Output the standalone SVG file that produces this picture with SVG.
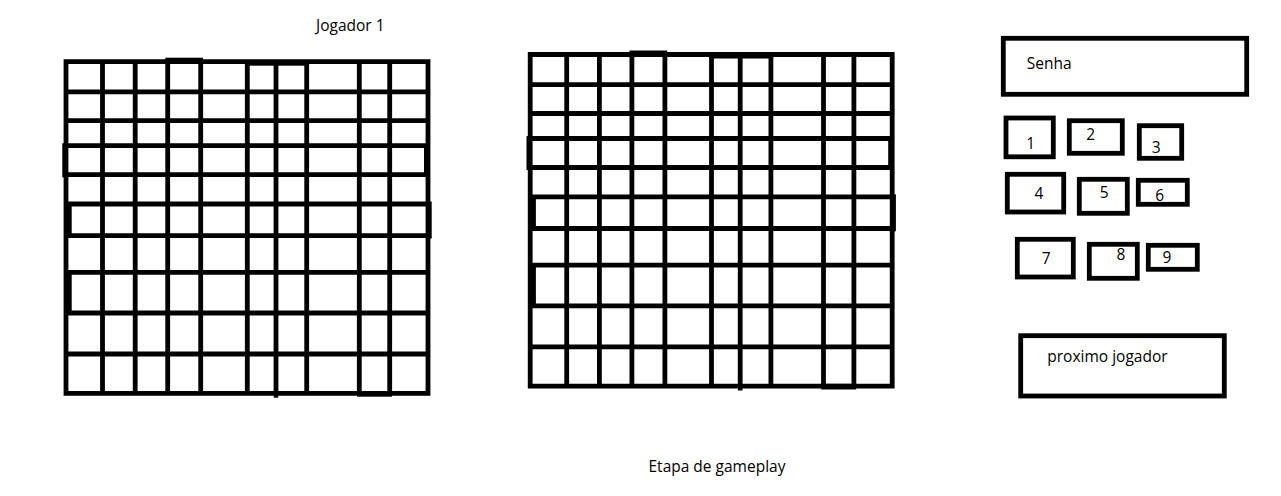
<svg xmlns="http://www.w3.org/2000/svg" xmlns:xlink="http://www.w3.org/1999/xlink" width="1281" height="496" viewBox="0 0 1281 496">
<style>
.grid{fill:none;stroke:#000;stroke-width:4.8;stroke-linecap:square}
.blk{fill:#000}
.box{fill:none;stroke:#000;stroke-width:4.8}
.t{font-family:"Open Sans","Noto Sans","Liberation Sans",sans-serif;font-size:15.5px;fill:#000}
</style>
<defs>
<g id="grid">
<path class="grid" d="M66 61.7V393.3M102.5 61.7V393.3M135.2 61.7V393.3M167.7 61.7V393.3M200.7 61.7V393.3M247.3 61.7V393.3M276 61.7V393.3M306.7 61.7V393.3M359.3 61.7V393.3M389.7 61.7V393.3M428 61.7V393.3M66 61.7H428M66 91.8H428M66 120.7H428M66 145.7H428M66 174.7H428M66 204H428M66 235.7H428M66 272.3H428M66 313H428M66 354H428M66 393.3H428"/>
<rect class="blk" x="165.3" y="57.7" width="37.7" height="5"/>
<rect class="blk" x="245" y="61.7" width="64" height="4"/>
<rect class="blk" x="62.3" y="143.3" width="4" height="34"/>
<rect class="blk" x="424" y="145.7" width="3" height="29"/>
<rect class="blk" x="66" y="204" width="5.7" height="31.7"/>
<rect class="blk" x="426" y="201.5" width="5.7" height="37"/>
<rect class="blk" x="66" y="272.3" width="5.7" height="40.7"/>
<rect class="blk" x="273.7" y="393" width="4.6" height="4.7"/>
<rect class="blk" x="357" y="391" width="35" height="5.7"/>
</g>
</defs>
<g id="title-jogador">
<text class="t" x="316" y="31">Jogador 1</text>
</g>
<g id="board-1">
<use xlink:href="#grid" href="#grid"/>
</g>
<g id="board-2">
<use xlink:href="#grid" href="#grid" transform="translate(464.2,-7.2)"/>
</g>
<g id="senha">
<rect class="box" x="1003.3" y="38.3" width="243.4" height="56"/>
<text class="t" x="1026.7" y="69.3">Senha</text>
</g>
<g id="key-1"><rect class="box" x="1006" y="118" width="47.3" height="38.8"/><text class="t" x="1026.2" y="148.7">1</text></g>
<g id="key-2"><rect class="box" x="1069.3" y="120.7" width="53" height="32.6"/><text class="t" x="1086.2" y="140">2</text></g>
<g id="key-3"><rect class="box" x="1139.3" y="125.7" width="42.4" height="32.6"/><text class="t" x="1151.8" y="152.7">3</text></g>
<g id="key-4"><rect class="box" x="1007.3" y="174.3" width="56.4" height="37.7"/><text class="t" x="1034.5" y="199.3">4</text></g>
<g id="key-5"><rect class="box" x="1079.3" y="179.3" width="48" height="34"/><text class="t" x="1099.8" y="198.3">5</text></g>
<g id="key-6"><rect class="box" x="1138.3" y="180.3" width="49" height="24"/><text class="t" x="1155.2" y="201">6</text></g>
<g id="key-7"><rect class="box" x="1017.3" y="239.3" width="56" height="37.7"/><text class="t" x="1041.8" y="264.3">7</text></g>
<g id="key-8"><rect class="box" x="1089.3" y="244.3" width="48" height="34"/><text class="t" x="1116.5" y="260">8</text></g>
<g id="key-9"><rect class="box" x="1148.3" y="245.3" width="49" height="24"/><text class="t" x="1162.5" y="262.7">9</text></g>
<g id="proximo-jogador">
<rect class="box" x="1020.7" y="335.7" width="203.6" height="60.3"/>
<text class="t" x="1047.3" y="362.3">proximo jogador</text>
</g>
<g id="caption">
<text class="t" x="648.5" y="472">Etapa de gameplay</text>
</g>
<g id="connectors"/>
</svg>
